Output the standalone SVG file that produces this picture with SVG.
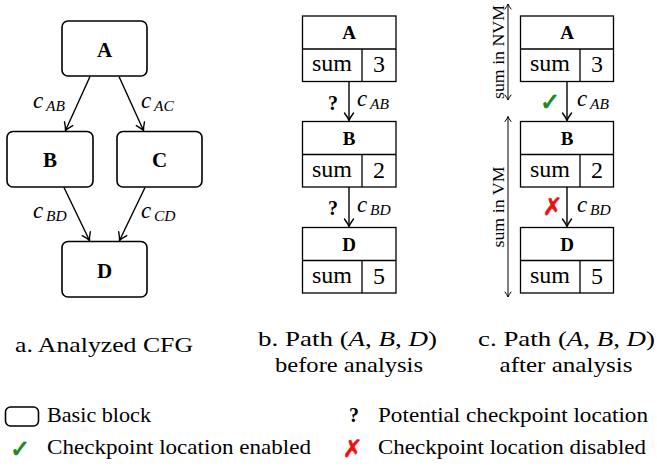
<svg xmlns="http://www.w3.org/2000/svg" width="657" height="466" viewBox="0 0 657 466">
<style>
  text { font-family: 'Liberation Serif', 'Times New Roman', serif; fill: #000; }
  .bl { font-weight: bold; font-size: 21px; text-anchor: middle; }
  .bh { font-weight: bold; font-size: 19px; text-anchor: middle; }
  .cell { font-size: 24px; text-anchor: middle; }
  .it { font-style: italic; }
  .lbl { font-size: 23px; font-style: italic; }
  .sub { font-size: 15.5px; font-style: italic; }
  .q { font-weight: bold; font-size: 20px; text-anchor: middle; }
  .cap { font-size: 21px; }
  .leg { font-size: 21px; }
  .rot { font-size: 17.5px; text-anchor: middle; }
  text.sym { font-family: 'DejaVu Sans', sans-serif; font-size: 24px; text-anchor: middle; }
  .ok { fill: #1b8a1b; stroke: #1b8a1b; stroke-width: 0.9; }
  .no { fill: #ee1111; stroke: #ee1111; stroke-width: 0.6; }
  .rbox { fill: #fff; stroke: #000; stroke-width: 1.6; }
  .box { fill: #fff; stroke: #000; stroke-width: 1.3; }
  .ln { stroke: #000; stroke-width: 1.3; fill: none; }
  .edge { stroke: #000; stroke-width: 1.4; fill: none; marker-end: url(#arr); }
  .dbl { stroke: #000; stroke-width: 1; fill: none; marker-start: url(#sarr); marker-end: url(#sarr); }
</style>
<defs>
  <marker id="arr" markerUnits="userSpaceOnUse" viewBox="-9 -6 11 12" refX="0" refY="0" markerWidth="11" markerHeight="12" orient="auto">
    <path d="M-7.5,-4.5 Q-3,-1.2 0,0 Q-3,1.2 -7.5,4.5" fill="none" stroke="#000" stroke-width="1.4" stroke-linecap="round"/>
  </marker>
  <marker id="sarr" markerUnits="userSpaceOnUse" viewBox="-7 -5 9 10" refX="0" refY="0" markerWidth="9" markerHeight="10" orient="auto-start-reverse">
    <path d="M-5,-3 Q-2,-0.8 0,0 Q-2,0.8 -5,3" fill="none" stroke="#000" stroke-width="1" stroke-linecap="round"/>
  </marker>
</defs>

<!-- Panel a -->
<g id="a-A"><rect class="rbox" x="62" y="21" width="85" height="55" rx="6"/><text class="bl" x="104.5" y="57">A</text></g>
<g id="a-B"><rect class="rbox" x="7" y="131.5" width="86" height="55.5" rx="6"/><text class="bl" x="50" y="167">B</text></g>
<g id="a-C"><rect class="rbox" x="117" y="131.5" width="85" height="55.5" rx="6"/><text class="bl" x="159.5" y="167">C</text></g>
<g id="a-D"><rect class="rbox" x="62" y="241.5" width="85" height="55.5" rx="6"/><text class="bl" x="104.5" y="278">D</text></g>

<!-- Panel b -->
<g id="b-A">
  <rect class="box" x="302.5" y="16" width="93.5" height="65.5"/>
  <line class="ln" x1="302.5" y1="49" x2="396" y2="49"/><line class="ln" x1="362" y1="49" x2="362" y2="81.5"/>
  <text class="bh" x="349" y="39">A</text><text class="cell" x="332" y="71">sum</text><text class="cell" x="379" y="72">3</text>
</g>
<g id="b-B">
  <rect class="box" x="302.5" y="121.5" width="93.5" height="65.5"/>
  <line class="ln" x1="302.5" y1="154.5" x2="396" y2="154.5"/><line class="ln" x1="362" y1="154.5" x2="362" y2="187"/>
  <text class="bh" x="349" y="144.5">B</text><text class="cell" x="332" y="176.5">sum</text><text class="cell" x="379" y="177.5">2</text>
</g>
<g id="b-D">
  <rect class="box" x="302.5" y="227.5" width="93.5" height="65.5"/>
  <line class="ln" x1="302.5" y1="260.5" x2="396" y2="260.5"/><line class="ln" x1="362" y1="260.5" x2="362" y2="293"/>
  <text class="bh" x="349" y="250.5">D</text><text class="cell" x="332" y="282.5">sum</text><text class="cell" x="379" y="283.5">5</text>
</g>

<!-- Panel c -->
<g id="c-A">
  <rect class="box" x="520.5" y="16" width="93" height="65.5"/>
  <line class="ln" x1="520.5" y1="49" x2="613.5" y2="49"/><line class="ln" x1="580" y1="49" x2="580" y2="81.5"/>
  <text class="bh" x="567" y="39">A</text><text class="cell" x="550" y="71">sum</text><text class="cell" x="597" y="72">3</text>
</g>
<g id="c-B">
  <rect class="box" x="520.5" y="121.5" width="93" height="65.5"/>
  <line class="ln" x1="520.5" y1="154.5" x2="613.5" y2="154.5"/><line class="ln" x1="580" y1="154.5" x2="580" y2="187"/>
  <text class="bh" x="567" y="144.5">B</text><text class="cell" x="550" y="176.5">sum</text><text class="cell" x="597" y="177.5">2</text>
</g>
<g id="c-D">
  <rect class="box" x="520.5" y="227.5" width="93" height="65.5"/>
  <line class="ln" x1="520.5" y1="260.5" x2="613.5" y2="260.5"/><line class="ln" x1="580" y1="260.5" x2="580" y2="293"/>
  <text class="bh" x="567" y="250.5">D</text><text class="cell" x="550" y="282.5">sum</text><text class="cell" x="597" y="283.5">5</text>
</g>

<!-- Connectors -->
<g id="connectors">
  <line class="edge" x1="90" y1="76.5" x2="65.5" y2="130.5"/>
  <line class="edge" x1="119" y1="76.5" x2="143.5" y2="130.5"/>
  <line class="edge" x1="64" y1="187.5" x2="89.5" y2="240.5"/>
  <line class="edge" x1="145" y1="187.5" x2="119.5" y2="240.5"/>
  <line class="edge" x1="349" y1="81.5" x2="349" y2="120.5"/>
  <line class="edge" x1="349" y1="187" x2="349" y2="226.5"/>
  <line class="edge" x1="567" y1="81.5" x2="567" y2="120.5"/>
  <line class="edge" x1="567" y1="187" x2="567" y2="226.5"/>
  <line class="dbl" x1="508" y1="4" x2="508" y2="100"/>
  <line class="dbl" x1="508" y1="116.5" x2="508" y2="297"/>
</g>

<!-- Edge labels -->
<g id="labels">
  <text class="lbl" x="33" y="108">c<tspan class="sub" x="46" y="111">AB</tspan></text>
  <text class="lbl" x="141" y="108">c<tspan class="sub" x="154" y="111">AC</tspan></text>
  <text class="lbl" x="33" y="218">c<tspan class="sub" x="46" y="221">BD</tspan></text>
  <text class="lbl" x="141" y="218">c<tspan class="sub" x="154" y="221">CD</tspan></text>
  <text class="lbl" x="357" y="106">c<tspan class="sub" x="370" y="109">AB</tspan></text>
  <text class="lbl" x="357" y="211.5">c<tspan class="sub" x="370" y="214.5">BD</tspan></text>
  <text class="lbl" x="577" y="106">c<tspan class="sub" x="590" y="109">AB</tspan></text>
  <text class="lbl" x="577" y="211.5">c<tspan class="sub" x="590" y="214.5">BD</tspan></text>
  <text class="q" x="333" y="110">?</text>
  <text class="q" x="333" y="215">?</text>
  <text class="sym ok" x="550" y="110">✓</text>
  <text class="sym no" x="552.5" y="215">✗</text>
  <text class="rot" transform="translate(504,52) rotate(-90)" textLength="94" lengthAdjust="spacingAndGlyphs">sum in NVM</text>
  <text class="rot" transform="translate(504,207) rotate(-90)" textLength="81" lengthAdjust="spacingAndGlyphs">sum in VM</text>
</g>

<!-- Captions -->
<g id="captions">
  <text class="cap" x="15" y="352" textLength="178" lengthAdjust="spacingAndGlyphs">a.  Analyzed CFG</text>
  <text class="cap" x="258" y="346" textLength="179" lengthAdjust="spacingAndGlyphs">b.  Path (<tspan class="it">A</tspan>, <tspan class="it">B</tspan>, <tspan class="it">D</tspan>)</text>
  <text class="cap" x="275" y="372" textLength="148" lengthAdjust="spacingAndGlyphs">before analysis</text>
  <text class="cap" x="478" y="346" textLength="177" lengthAdjust="spacingAndGlyphs">c.  Path (<tspan class="it">A</tspan>, <tspan class="it">B</tspan>, <tspan class="it">D</tspan>)</text>
  <text class="cap" x="499.5" y="372" textLength="133" lengthAdjust="spacingAndGlyphs">after analysis</text>
</g>

<!-- Legend -->
<g id="legend">
  <rect class="rbox" x="5.5" y="407" width="33" height="19" rx="5"/>
  <text class="leg" x="47" y="422" textLength="104" lengthAdjust="spacingAndGlyphs">Basic block</text>
  <text class="sym ok" x="20" y="457">✓</text>
  <text class="leg" x="47" y="454" textLength="264" lengthAdjust="spacingAndGlyphs">Checkpoint location enabled</text>
  <text class="q" x="354" y="422">?</text>
  <text class="leg" x="378" y="422" textLength="270" lengthAdjust="spacingAndGlyphs">Potential checkpoint location</text>
  <text class="sym no" x="352.5" y="457">✗</text>
  <text class="leg" x="378" y="454" textLength="268" lengthAdjust="spacingAndGlyphs">Checkpoint location disabled</text>
</g>
</svg>
